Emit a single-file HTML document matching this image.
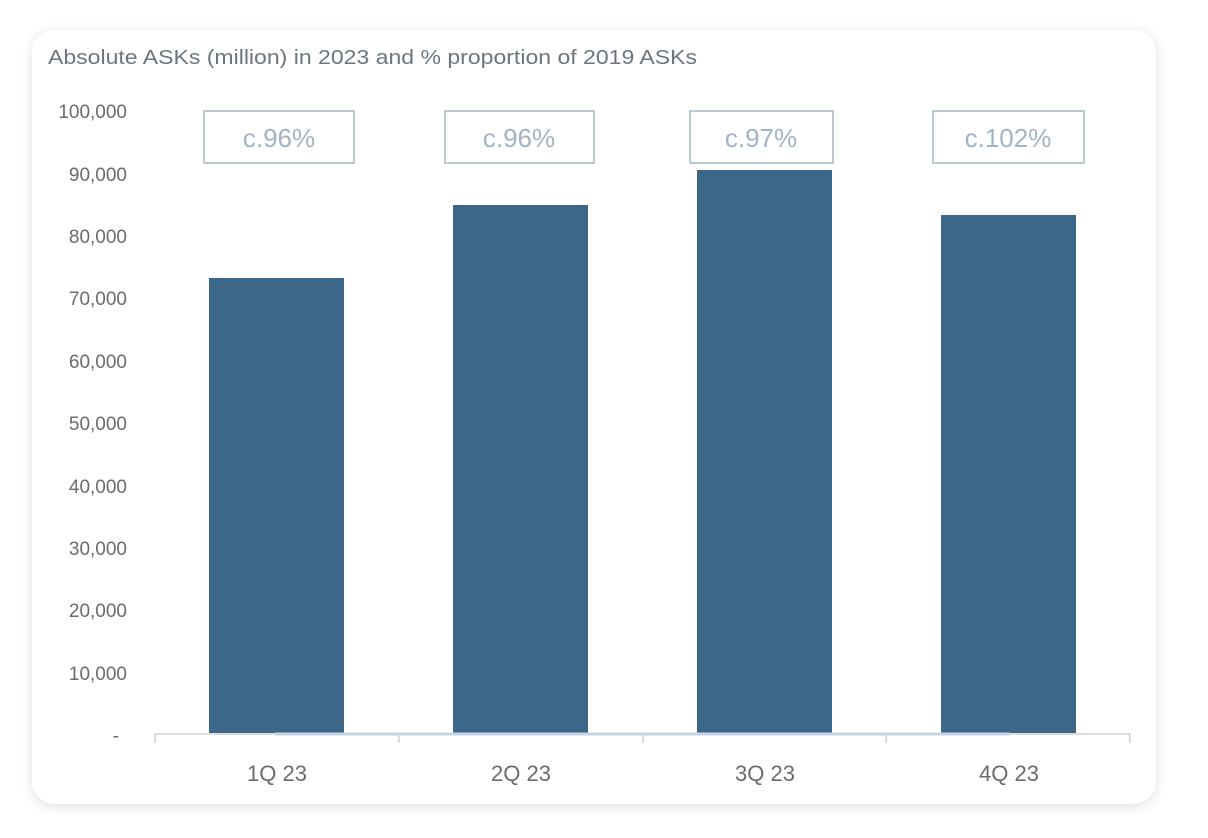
<!DOCTYPE html>
<html><head><style>
body{margin:0;background:#fff;width:1208px;height:838px;overflow:hidden}
.card{position:absolute;left:32px;top:30px;width:1124px;height:774px;background:#fff;border-radius:22px;box-shadow:0 2px 12px rgba(0,0,0,0.13)}
svg{position:absolute;left:0;top:0}
text{font-family:"Liberation Sans",sans-serif}
</style></head><body>
<div class="card"></div>
<svg width="1208" height="838">
<text x="48" y="64" font-size="20" fill="#6b7680" textLength="649" lengthAdjust="spacingAndGlyphs">Absolute ASKs (million) in 2023 and % proportion of 2019 ASKs</text>
<g font-size="19" fill="#6b6b6b" text-anchor="end">
<text x="127" y="118">100,000</text>
<text x="127" y="181">90,000</text>
<text x="127" y="243">80,000</text>
<text x="127" y="305">70,000</text>
<text x="127" y="368">60,000</text>
<text x="127" y="430">50,000</text>
<text x="127" y="493">40,000</text>
<text x="127" y="555">30,000</text>
<text x="127" y="617">20,000</text>
<text x="127" y="680">10,000</text>
<text x="119" y="742">-</text>
</g>
<g fill="#3d6788">
<rect x="209" y="278" width="135" height="455"/>
<rect x="453" y="205" width="135" height="528"/>
<rect x="697" y="170" width="135" height="563"/>
<rect x="941" y="215" width="135" height="518"/>
</g>
<g stroke="#d0d0d0" stroke-width="1.5">
<line x1="155" y1="734" x2="1130" y2="734"/>
<line x1="155" y1="734" x2="155" y2="743"/>
<line x1="399" y1="734" x2="399" y2="743"/>
<line x1="643" y1="734" x2="643" y2="743"/>
<line x1="886" y1="734" x2="886" y2="743"/>
<line x1="1130" y1="734" x2="1130" y2="743"/>
</g>
<line x1="275" y1="734" x2="1010" y2="734" stroke="#c5d5e4" stroke-width="3"/>
<g font-size="22" fill="#6b6b6b" text-anchor="middle">
<text x="277" y="781">1Q 23</text>
<text x="521" y="781">2Q 23</text>
<text x="765" y="781">3Q 23</text>
<text x="1009" y="781">4Q 23</text>
</g>
<g fill="none" stroke="#a7b7c7" stroke-width="1.5">
<rect x="204" y="111" width="150" height="52"/>
<rect x="445" y="111" width="149" height="52"/>
<rect x="690" y="111" width="143" height="52"/>
<rect x="933" y="111" width="151" height="52"/>
</g>
<g font-size="26" fill="#a3b3c5" text-anchor="middle">
<text x="279" y="147">c.96%</text>
<text x="519" y="147">c.96%</text>
<text x="761" y="147">c.97%</text>
<text x="1008" y="147">c.102%</text>
</g>
</svg>
</body></html>
